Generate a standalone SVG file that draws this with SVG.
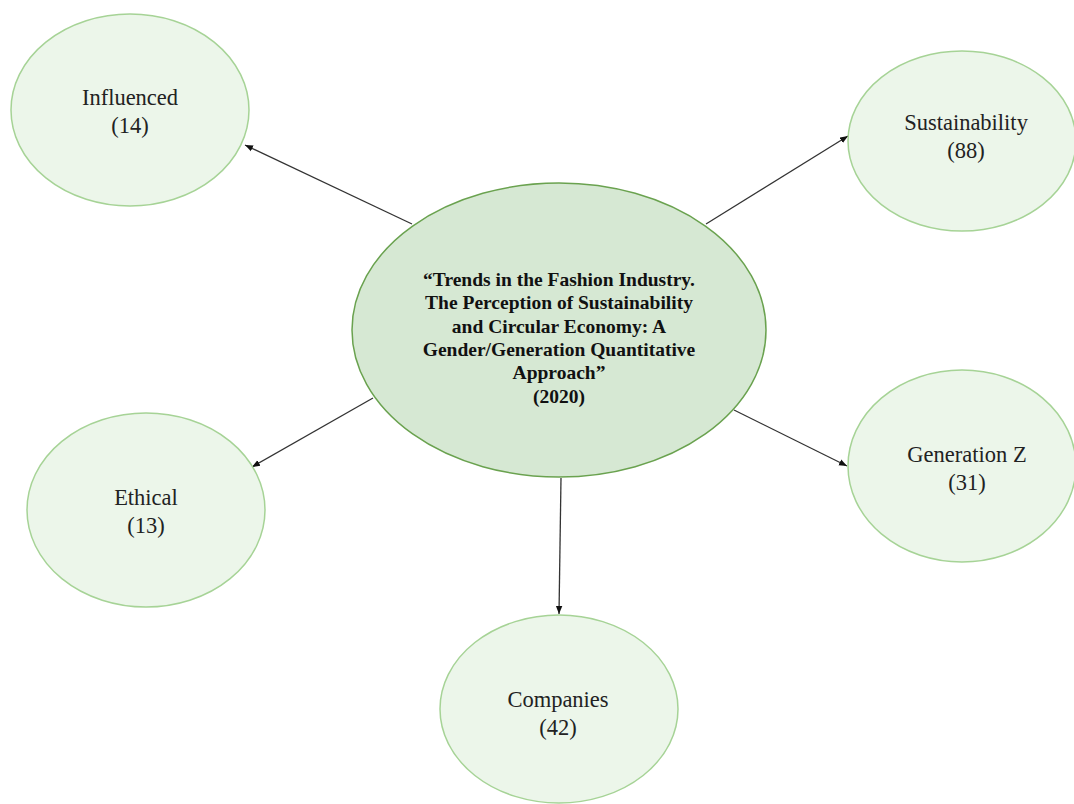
<svg xmlns="http://www.w3.org/2000/svg" width="1074" height="804" viewBox="0 0 1074 804">
<style>
.main{fill:#d6e8d3;stroke:#6aa24f;stroke-width:1.5}
.leaf{fill:#ecf6ea;stroke:#a6d396;stroke-width:1.5}
.t{font-family:"Liberation Serif","Times New Roman",serif;font-size:22.5px;fill:#222;text-anchor:middle}
.tb{font-family:"Liberation Serif","Times New Roman",serif;font-size:19.5px;font-weight:bold;fill:#111;text-anchor:middle}
.c{stroke:#333;stroke-width:1.3;fill:none;marker-end:url(#ah)}
</style>
<defs>
<marker id="ah" viewBox="0 0 10 10" refX="10" refY="5" markerWidth="8" markerHeight="8" markerUnits="userSpaceOnUse" orient="auto">
<path d="M0,1 L10,5 L0,9 Z" fill="#111"/>
</marker>
</defs>
<rect width="1074" height="804" fill="#fff"/>
<g id="connectors">
<line class="c" x1="412" y1="224" x2="245" y2="145"/>
<line class="c" x1="706" y1="224" x2="848" y2="136"/>
<line class="c" x1="373" y1="398" x2="252" y2="467"/>
<line class="c" x1="734" y1="410" x2="847" y2="466"/>
<line class="c" x1="561" y1="478" x2="559" y2="614"/>
</g>
<g id="center">
<ellipse class="main" cx="559" cy="330" rx="207" ry="147"/>
<text class="tb" x="559" y="286">“Trends in the Fashion Industry.</text>
<text class="tb" x="559" y="309">The Perception of Sustainability</text>
<text class="tb" x="559" y="333">and Circular Economy: A</text>
<text class="tb" x="559" y="356">Gender/Generation Quantitative</text>
<text class="tb" x="559" y="379">Approach”</text>
<text class="tb" x="559" y="403">(2020)</text>
</g>
<g id="influenced">
<ellipse class="leaf" cx="130" cy="110" rx="119" ry="96"/>
<text class="t" x="130" y="105">Influenced</text>
<text class="t" x="130" y="133">(14)</text>
</g>
<g id="sustainability">
<ellipse class="leaf" cx="962" cy="141" rx="114" ry="90"/>
<text class="t" x="966" y="130">Sustainability</text>
<text class="t" x="966" y="158">(88)</text>
</g>
<g id="ethical">
<ellipse class="leaf" cx="146" cy="510" rx="119" ry="97"/>
<text class="t" x="146" y="505">Ethical</text>
<text class="t" x="146" y="533">(13)</text>
</g>
<g id="generationz">
<ellipse class="leaf" cx="962" cy="466" rx="114" ry="96"/>
<text class="t" x="967" y="462">Generation Z</text>
<text class="t" x="967" y="490">(31)</text>
</g>
<g id="companies">
<ellipse class="leaf" cx="559" cy="709" rx="119" ry="94"/>
<text class="t" x="558" y="707">Companies</text>
<text class="t" x="558" y="735">(42)</text>
</g>
</svg>
